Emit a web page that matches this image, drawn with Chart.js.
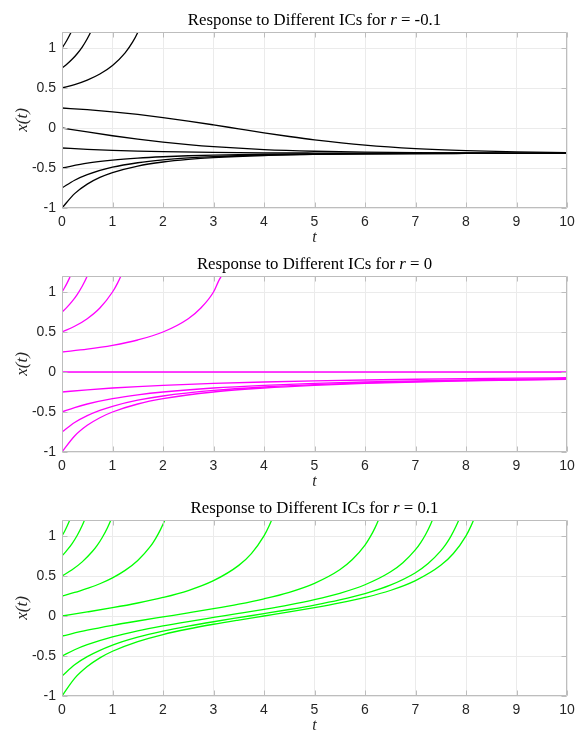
<!DOCTYPE html>
<html><head><meta charset="utf-8">
<script src="https://cdn.jsdelivr.net/npm/chart.js@4/dist/chart.umd.min.js"></script>
<style>
html,body{margin:0;padding:0;background:#fff;}
.p{position:absolute;left:0;width:587px;height:243px;}
canvas{display:block;}
</style></head><body>
<div class="p" style="top:0px"><canvas id="c1" width="587" height="243"></canvas></div>
<div class="p" style="top:244px"><canvas id="c2" width="587" height="243"></canvas></div>
<div class="p" style="top:488px"><canvas id="c3" width="587" height="243"></canvas></div>
<script>
// ---- categories / tick labels ----
const rLabels = ['-0.1', '0', '0.1'];
const initialConditions = [-1, -0.75, -0.5, -0.25, 0, 0.25, 0.5, 0.75, 1];
const xTicks = [0, 1, 2, 3, 4, 5, 6, 7, 8, 9, 10];
const yTicks = [-1, -0.5, 0, 0.5, 1];

// ---- r = -0.1 : [t, x(t)] ----
const rNeg_m100 = [[0,-1],[0.25,-0.8203],[0.5,-0.7015],[0.75,-0.6182],[1,-0.5573],[1.5,-0.4753],[2,-0.4249],[2.5,-0.3919],[3,-0.3695],[4,-0.3435],[5,-0.3305],[6,-0.3237],[7,-0.3202],[8,-0.3183],[9,-0.3173],[10,-0.3168]];
const rNeg_m075 = [[0,-0.75],[0.25,-0.6527],[0.5,-0.5828],[1,-0.4905],[1.5,-0.4344],[2,-0.3982],[2.5,-0.3740],[3,-0.3572],[4,-0.3374],[5,-0.3274],[6,-0.3221],[8,-0.3179],[10,-0.3167]];
const rNeg_m050 = [[0,-0.5],[0.5,-0.4404],[1,-0.4022],[1.5,-0.3766],[2,-0.3592],[2.5,-0.3469],[3,-0.3382],[4,-0.3279],[5,-0.3223],[6,-0.3194],[8,-0.3171],[10,-0.3165]];
const rNeg_m025 = [[0,-0.25],[0.5,-0.2666],[1,-0.2792],[1.5,-0.2889],[2,-0.2961],[3,-0.3053],[4,-0.3104],[5,-0.3131],[6,-0.3146],[8,-0.3158],[10,-0.3161]];
const rNeg_z000 = [[0,0],[0.5,-0.0496],[1,-0.0968],[1.5,-0.1397],[2,-0.1770],[2.5,-0.2084],[3,-0.2338],[4,-0.2696],[5,-0.2905],[6,-0.3023],[7,-0.3088],[8,-0.3122],[9,-0.3141],[10,-0.3151]];
const rNeg_p025 = [[0,0.25],[0.5,0.2287],[1,0.2021],[1.5,0.1695],[2,0.1309],[2.5,0.0870],[3,0.0391],[3.5,-0.0107],[4,-0.0600],[4.5,-0.1064],[5,-0.1482],[6,-0.2142],[7,-0.2575],[8,-0.2837],[9,-0.2985],[10,-0.3067]];
const rNeg_p050 = [[0,0.5],[0.25,0.5428],[0.5,0.5989],[0.75,0.6747],[1,0.7814],[1.25,0.9395],[1.4,1.0763],[1.5,1.1947],[1.6,1.3457],[1.75,1.666]];
const rNeg_p075 = [[0,0.75],[0.1,0.7998],[0.2,0.8584],[0.3,0.9284],[0.4,1.0119],[0.5,1.1150],[0.6,1.2435],[0.7,1.4092]];
const rNeg_p100 = [[0,1],[0.05,1.0471],[0.1,1.1000],[0.15,1.1584],[0.2,1.2243],[0.25,1.2992]];

// ---- r = 0 ----
const rZero_m100 = [[0,-1],[0.25,-0.8],[0.5,-0.6667],[0.75,-0.5714],[1,-0.5],[1.5,-0.4],[2,-0.3333],[3,-0.25],[4,-0.2],[5,-0.1667],[6,-0.1429],[7,-0.125],[8,-0.1111],[9,-0.1],[10,-0.0909]];
const rZero_m075 = [[0,-0.75],[0.25,-0.6316],[0.5,-0.5455],[0.75,-0.48],[1,-0.4286],[1.5,-0.3529],[2,-0.3],[3,-0.2308],[4,-0.1875],[5,-0.1579],[6,-0.1364],[7,-0.12],[8,-0.1071],[9,-0.0968],[10,-0.0882]];
const rZero_m050 = [[0,-0.5],[0.25,-0.4444],[0.5,-0.4],[1,-0.3333],[1.5,-0.2857],[2,-0.25],[3,-0.2],[4,-0.1667],[5,-0.1429],[6,-0.125],[7,-0.1111],[8,-0.1],[9,-0.0909],[10,-0.0833]];
const rZero_m025 = [[0,-0.25],[0.5,-0.2222],[1,-0.2],[1.5,-0.1818],[2,-0.1667],[3,-0.1429],[4,-0.125],[5,-0.1111],[6,-0.1],[7,-0.0909],[8,-0.0833],[9,-0.0769],[10,-0.0714]];
const rZero_z000 = [[0,0],[10,0]];
const rZero_p025 = [[0,0.25],[0.5,0.2857],[1,0.3333],[1.5,0.4],[2,0.5],[2.5,0.6667],[2.75,0.8],[3,1.0],[3.1,1.1364],[3.2,1.25],[3.3,1.3889]];
const rZero_p050 = [[0,0.5],[0.25,0.5714],[0.5,0.6667],[0.75,0.8],[1,1.0],[1.1,1.1111],[1.2,1.25],[1.3,1.4286]];
const rZero_p075 = [[0,0.75],[0.1,0.8108],[0.2,0.8824],[0.3,0.9677],[0.4,1.0714],[0.5,1.2],[0.6,1.3636]];
const rZero_p100 = [[0,1],[0.05,1.0526],[0.1,1.1111],[0.15,1.1765],[0.2,1.25],[0.25,1.3333]];

// ---- r = 0.1 ----
const rPos_m100 = [[0,-1],[0.25,-0.7791],[0.5,-0.6320],[0.75,-0.5230],[1,-0.4403],[1.5,-0.3193],[2,-0.2314],[2.5,-0.1624],[3,-0.1033],[3.5,-0.0503],[4,0.0001],[4.5,0.0505],[5,0.1036],[5.5,0.1627],[6,0.2318],[6.5,0.3187],[7,0.4421],[7.5,0.6334],[7.75,0.7811],[8,1.0025],[8.1,1.1264],[8.2,1.281],[8.3,1.482]];
const rPos_m075 = [[0,-0.75],[0.25,-0.6103],[0.5,-0.5082],[1,-0.3641],[1.5,-0.2651],[2,-0.1895],[2.5,-0.1269],[3,-0.0718],[3.5,-0.0206],[4,0.0295],[4.5,0.0811],[5,0.1372],[5.5,0.2017],[6,0.2802],[6.5,0.3854],[7,0.5410],[7.25,0.6553],[7.5,0.8133],[7.6,0.8954],[7.7,0.9953],[7.8,1.1175],[7.9,1.2684],[8,1.4651]];
const rPos_m050 = [[0,-0.5],[0.25,-0.4221],[0.5,-0.3590],[1,-0.2616],[1.5,-0.1862],[2,-0.1243],[2.5,-0.0695],[3,-0.0184],[3.5,0.0317],[4,0.0835],[4.5,0.1399],[5,0.2050],[5.5,0.2841],[6,0.3908],[6.5,0.5496],[6.75,0.6666],[7,0.8303],[7.1,0.9152],[7.2,1.0193],[7.3,1.1479],[7.4,1.3051],[7.5,1.5153]];
const rPos_m025 = [[0,-0.25],[0.5,-0.1774],[1,-0.1163],[1.5,-0.0623],[2,-0.0115],[2.5,0.0387],[3,0.0909],[3.5,0.1480],[4,0.2149],[4.5,0.2966],[5,0.4087],[5.5,0.5781],[5.75,0.7053],[6,0.8861],[6.1,0.985],[6.2,1.1047],[6.3,1.2532],[6.4,1.4465]];
const rPos_z000 = [[0,0],[0.5,0.0504],[1,0.1035],[1.5,0.1625],[2,0.2316],[2.5,0.3184],[3,0.4417],[3.5,0.6328],[3.75,0.7803],[4,1.0012],[4.1,1.1246],[4.2,1.279],[4.3,1.479]];
const rPos_p025 = [[0,0.25],[0.25,0.2938],[0.5,0.3461],[0.75,0.4034],[1,0.4768],[1.25,0.5699],[1.5,0.6939],[1.75,0.8695],[1.85,0.9650],[1.95,1.0797],[2.05,1.2196],[2.15,1.4037]];
const rPos_p050 = [[0,0.5],[0.2,0.5775],[0.4,0.6764],[0.6,0.8056],[0.7,0.8856],[0.8,0.9844],[0.9,1.1030],[1.0,1.2515],[1.1,1.445]];
const rPos_p075 = [[0,0.75],[0.1,0.8227],[0.2,0.9056],[0.3,1.0066],[0.4,1.1308],[0.5,1.2883],[0.6,1.49]];
const rPos_p100 = [[0,1],[0.05,1.0571],[0.1,1.1224],[0.15,1.1933],[0.2,1.2763],[0.25,1.37]];

const panelCurves = [
  [rNeg_m100, rNeg_m075, rNeg_m050, rNeg_m025, rNeg_z000, rNeg_p025, rNeg_p050, rNeg_p075, rNeg_p100],
  [rZero_m100, rZero_m075, rZero_m050, rZero_m025, rZero_z000, rZero_p025, rZero_p050, rZero_p075, rZero_p100],
  [rPos_m100, rPos_m075, rPos_m050, rPos_m025, rPos_z000, rPos_p025, rPos_p050, rPos_p075, rPos_p100]
];
const panelColors = ['#000000', '#ff00ff', '#00ff00'];

const decor = {
  id: 'decor',
  afterDraw(chart, args, opts) {
    const { ctx, chartArea: a, scales } = chart;
    const x = scales.x, y = scales.y;
    ctx.save();
    // box
    ctx.strokeStyle = '#bdbdbd';
    ctx.lineWidth = 1;
    const L = Math.round(a.left) + 0.5, R = Math.round(a.right) - 0.5;
    const T = Math.round(a.top) + 0.5, B = Math.round(a.bottom) - 0.5;
    ctx.beginPath();
    ctx.rect(L, T, R - L, B - T);
    // inward ticks
    xTicks.forEach(v => {
      const px = Math.round(x.getPixelForValue(v)) + 0.5;
      ctx.moveTo(px, B); ctx.lineTo(px, B - 5);
      ctx.moveTo(px, T); ctx.lineTo(px, T + 5);
    });
    yTicks.forEach(v => {
      const py = Math.round(y.getPixelForValue(v)) + 0.5;
      ctx.moveTo(L, py); ctx.lineTo(L + 5, py);
      ctx.moveTo(R, py); ctx.lineTo(R - 5, py);
    });
    ctx.stroke();
    // title with italic r
    const cx = (a.left + a.right) / 2;
    const fs = '16.8px "Liberation Serif"';
    const segs = [
      { t: 'Response to Different ICs for ', f: fs },
      { t: 'r', f: 'italic ' + fs },
      { t: ' = ' + opts.r, f: fs }
    ];
    let w = 0;
    segs.forEach(s => { ctx.font = s.f; s.w = ctx.measureText(s.t).width; w += s.w; });
    let sx = cx - w / 2;
    ctx.fillStyle = '#000';
    ctx.textBaseline = 'alphabetic';
    ctx.textAlign = 'left';
    segs.forEach(s => { ctx.font = s.f; ctx.fillText(s.t, sx, a.top - 7); sx += s.w; });
    // x label
    ctx.fillStyle = '#262626';
    ctx.font = 'italic 16px "Liberation Serif"';
    ctx.textAlign = 'center';
    ctx.fillText('t', cx, a.bottom + 34);
    // y label
    ctx.save();
    ctx.translate(27, (a.top + a.bottom) / 2);
    ctx.rotate(-Math.PI / 2);
    ctx.font = 'italic 17px "Liberation Serif"';
    ctx.textAlign = 'center';
    ctx.fillText('x(t)', 0, 0);
    ctx.restore();
    ctx.restore();
  }
};

function makeChart(id, idx) {
  const datasets = panelCurves[idx].map((c, k) => ({
    label: 'x0 = ' + initialConditions[k],
    data: c.map(p => ({ x: p[0], y: p[1] })),
    borderColor: panelColors[idx],
    borderWidth: 1.3,
    pointRadius: 0,
    fill: false,
    cubicInterpolationMode: 'monotone',
    clip: 0
  }));
  return new Chart(document.getElementById(id), {
    type: 'line',
    data: { datasets },
    plugins: [decor],
    options: {
      responsive: false,
      animation: false,
      devicePixelRatio: 1,
      events: [],
      layout: { padding: { left: 0, right: 20, top: 32, bottom: 0 } },
      plugins: { legend: { display: false }, tooltip: { enabled: false }, decor: { r: rLabels[idx] } },
      scales: {
        x: {
          type: 'linear', min: 0, max: 10,
          afterBuildTicks: s => { s.ticks = xTicks.map(v => ({ value: v })); },
          afterFit: s => { s.height = 35; },
          grid: { color: '#ebebeb', lineWidth: 1, drawTicks: false },
          border: { display: false },
          ticks: { padding: 6, color: '#262626', font: { family: '"Liberation Sans"', size: 14 }, maxRotation: 0, callback: v => String(v) }
        },
        y: {
          type: 'linear', min: -1, max: 1.2,
          afterBuildTicks: s => { s.ticks = yTicks.map(v => ({ value: v })); },
          afterFit: s => { s.width = 62; },
          grid: { color: '#ebebeb', lineWidth: 1, drawTicks: false },
          border: { display: false },
          ticks: { padding: 6, color: '#262626', font: { family: '"Liberation Sans"', size: 14 }, callback: v => String(v) }
        }
      }
    }
  });
}
makeChart('c1', 0);
makeChart('c2', 1);
makeChart('c3', 2);
</script>
</body></html>
